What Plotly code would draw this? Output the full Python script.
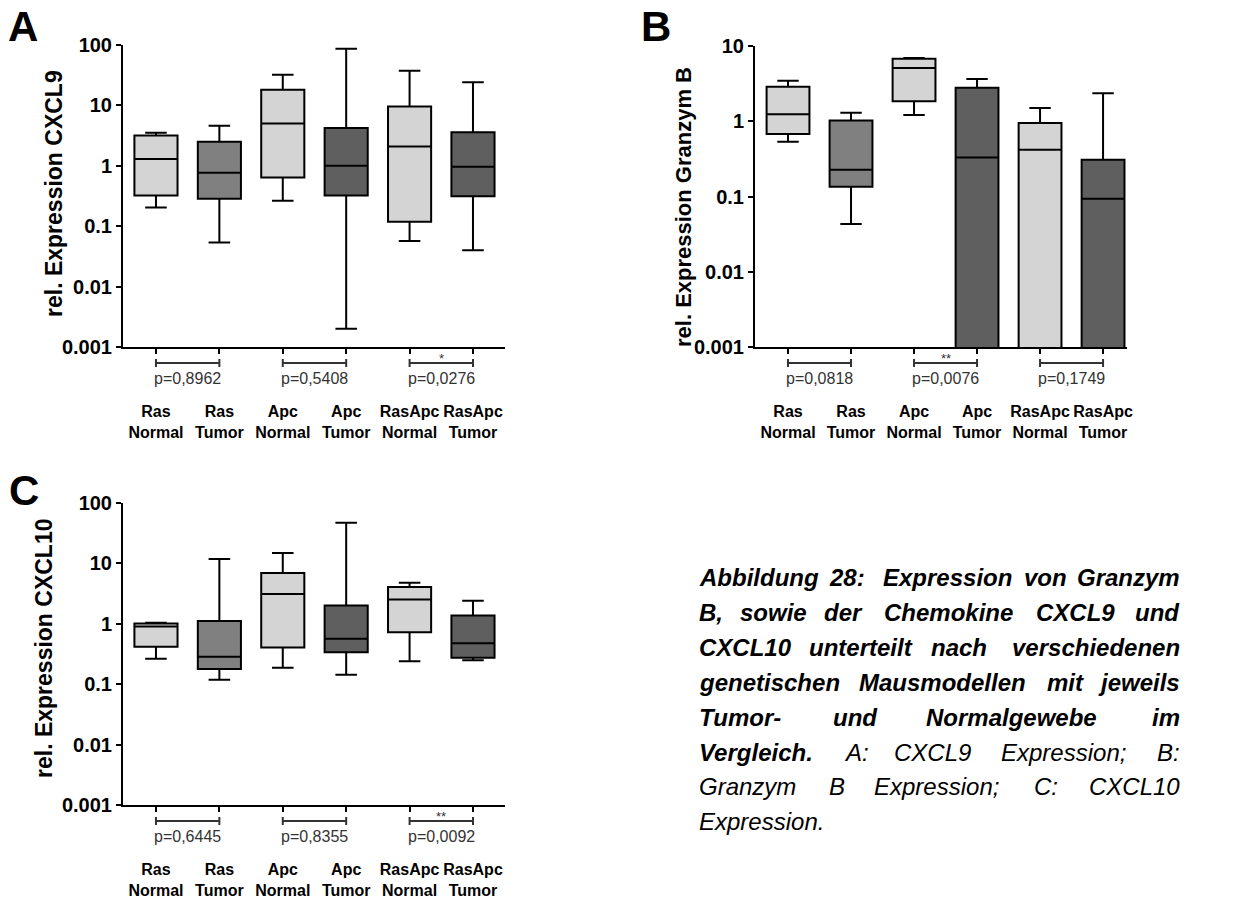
import plotly.graph_objects as go

W, H = 1242, 902
FONT = "Liberation Sans, Arial, sans-serif"

categories = ["Ras<br>Normal", "Ras<br>Tumor", "Apc<br>Normal", "Apc<br>Tumor",
              "RasApc<br>Normal", "RasApc<br>Tumor"]
box_colors = ["#d4d4d4", "#808080", "#d4d4d4", "#5f5f5f", "#d4d4d4", "#5f5f5f"]

# Panel A: CXCL9
cxcl9_min = [0.204, 0.0536, 0.263, 0.00201, 0.0571, 0.040]
cxcl9_q1 = [0.322, 0.284, 0.641, 0.322, 0.119, 0.314]
cxcl9_med = [1.29, 0.766, 5.03, 1.0, 2.09, 0.962]
cxcl9_q3 = [3.18, 2.5, 18.2, 4.21, 9.62, 3.61]
cxcl9_max = [3.52, 4.6, 32.2, 86.9, 37.6, 24.1]
cxcl9_p = ["p=0,8962", "p=0,5408", "p=0,0276"]
cxcl9_sig = ["", "", "*"]

# Panel B: Granzym B (lower quartiles/whiskers of some groups lie below 0.001)
gzmb_min = [0.535, 0.0431, 1.21, 0.0001, 0.0001, 0.0001]
gzmb_q1 = [0.677, 0.135, 1.84, 0.0001, 0.0001, 0.0001]
gzmb_med = [1.24, 0.227, 5.1, 0.331, 0.419, 0.0935]
gzmb_q3 = [2.88, 1.02, 6.79, 2.79, 0.948, 0.309]
gzmb_max = [3.46, 1.30, 6.93, 3.64, 1.50, 2.35]
gzmb_p = ["p=0,0818", "p=0,0076", "p=0,1749"]
gzmb_sig = ["", "**", ""]

# Panel C: CXCL10
cxcl10_min = [0.263, 0.118, 0.187, 0.143, 0.240, 0.25]
cxcl10_q1 = [0.416, 0.179, 0.405, 0.339, 0.728, 0.273]
cxcl10_med = [0.903, 0.284, 3.1, 0.564, 2.53, 0.478]
cxcl10_q3 = [1.01, 1.11, 6.91, 2.01, 4.05, 1.37]
cxcl10_max = [1.04, 11.8, 14.8, 47.2, 4.78, 2.41]
cxcl10_p = ["p=0,6445", "p=0,8355", "p=0,0092"]
cxcl10_sig = ["", "", "**"]

ytick_vals_A = [0.001, 0.01, 0.1, 1, 10, 100]
ytick_text_A = ["0.001", "0.01", "0.1", "1", "10", "100"]
ytick_vals_B = [0.001, 0.01, 0.1, 1, 10]
ytick_text_B = ["0.001", "0.01", "0.1", "1", "10"]

caption_lines = [
    [("Abbildung", "b"), ("28:", "b"), ("Expression", "b"), ("von", "b"), ("Granzym", "b")],
    [("B,", "b"), ("sowie", "b"), ("der", "b"), ("Chemokine", "b"), ("CXCL9", "b"), ("und", "b")],
    [("CXCL10", "b"), ("unterteilt", "b"), ("nach", "b"), ("verschiedenen", "b")],
    [("genetischen", "b"), ("Mausmodellen", "b"), ("mit", "b"), ("jeweils", "b")],
    [("Tumor-", "b"), ("und", "b"), ("Normalgewebe", "b"), ("im", "b")],
    [("Vergleich.", "b"), ("A:", "n"), ("CXCL9", "n"), ("Expression;", "n"), ("B:", "n")],
    [("Granzym", "n"), ("B", "n"), ("Expression;", "n"), ("C:", "n"), ("CXCL10", "n")],
    [("Expression.", "n")],
]
caption_word_x = [
    [698, 828, 882, 1023, 1077],
    [698, 739, 823, 883, 1035, 1132],
    [698, 808, 930, 1005],
    [698, 858, 1046, 1095],
    [698, 832, 925, 1152],
    [698, 843, 893, 1000, 1157],
    [698, 828, 873, 1033, 1085],
    [698],
]

# layout geometry in pixels: (left, right, top, bottom)
panels = [
    dict(name="A", xa="x", ya="y", box=(123, 505, 45, 347), xr=[-0.52, 5.505], yr=[-3, 2],
         mins=cxcl9_min, q1=cxcl9_q1, med=cxcl9_med, q3=cxcl9_q3, maxs=cxcl9_max,
         p=cxcl9_p, sig=cxcl9_sig, title="rel. Expression CXCL9", tpos=(54, 194), tsize=23,
         tv=ytick_vals_A, tt=ytick_text_A, letter=(23, 27)),
    dict(name="B", xa="x2", ya="y2", box=(755, 1127, 46, 347), xr=[-0.524, 5.38], yr=[-3, 1],
         mins=gzmb_min, q1=gzmb_q1, med=gzmb_med, q3=gzmb_q3, maxs=gzmb_max,
         p=gzmb_p, sig=gzmb_sig, title="rel. Expression Granzym B", tpos=(683, 207), tsize=22,
         tv=ytick_vals_B, tt=ytick_text_B, letter=(656, 27)),
    dict(name="C", xa="x3", ya="y3", box=(123, 505, 503, 805), xr=[-0.52, 5.505], yr=[-3, 2],
         mins=cxcl10_min, q1=cxcl10_q1, med=cxcl10_med, q3=cxcl10_q3, maxs=cxcl10_max,
         p=cxcl10_p, sig=cxcl10_sig, title="rel. Expression CXCL10", tpos=(44, 648), tsize=23,
         tv=ytick_vals_A, tt=ytick_text_A, letter=(24, 490)),
]


def py(p):
    return 1 - p / H


def px(p):
    return p / W


fig = go.Figure()
shapes = []
annotations = []
layout = dict(
    width=W, height=H, margin=dict(l=0, r=0, t=0, b=0),
    paper_bgcolor="white", plot_bgcolor="white", showlegend=False,
    font=dict(family=FONT, color="black"),
)

for k, P in enumerate(panels):
    for i in range(6):
        fig.add_trace(go.Box(
            x=[i], q1=[P["q1"][i]], median=[P["med"][i]], q3=[P["q3"][i]],
            lowerfence=[P["mins"][i]], upperfence=[P["maxs"][i]],
            width=0.68, whiskerwidth=0.5, boxpoints=False,
            fillcolor=box_colors[i], line=dict(color="black", width=2),
            xaxis=P["xa"], yaxis=P["ya"], hoverinfo="skip",
        ))
    l, r, t, b = P["box"]
    sfx = "" if k == 0 else str(k + 1)
    layout["xaxis" + sfx] = dict(
        domain=[px(l), px(r)], range=P["xr"], anchor=P["ya"],
        tickmode="array", tickvals=list(range(6)), ticktext=categories,
        ticks="outside", ticklen=5, tickwidth=2, tickcolor="black",
        showline=True, linecolor="black", linewidth=2,
        showgrid=False, zeroline=False, automargin=False,
        tickfont=dict(family=FONT, size=16, color="black", weight="bold"),
        ticklabelstandoff=44,
    )
    layout["yaxis" + sfx] = dict(
        domain=[py(b), py(t)], type="log", range=P["yr"], anchor=P["xa"],
        tickmode="array", tickvals=P["tv"], ticktext=P["tt"],
        ticks="outside", ticklen=5, tickwidth=2, tickcolor="black",
        showline=True, linecolor="black", linewidth=2,
        showgrid=False, zeroline=False, automargin=False,
        tickfont=dict(family=FONT, size=20, color="black", weight="bold"),
    )
    # y-axis title
    tx, ty = P["tpos"]
    annotations.append(dict(x=px(tx), y=py(ty), xref="paper", yref="paper", text=P["title"],
                            textangle=-90, showarrow=False, xanchor="center", yanchor="middle",
                            font=dict(family=FONT, size=P["tsize"], color="black", weight="bold")))
    # significance brackets
    yb = b + 16
    for j in range(3):
        x0, x1 = 2 * j, 2 * j + 1
        shapes.append(dict(type="line", xref=P["xa"], yref="paper", x0=x0, x1=x1,
                           y0=py(yb), y1=py(yb), line=dict(color="#333333", width=2)))
        for xx in (x0, x1):
            shapes.append(dict(type="line", xref=P["xa"], yref="paper", x0=xx, x1=xx,
                               y0=py(yb - 4), y1=py(yb + 4), line=dict(color="#333333", width=2)))
        annotations.append(dict(x=(x0 + x1) / 2, y=py(yb + 15), xref=P["xa"], yref="paper",
                                text=P["p"][j], showarrow=False, xanchor="center", yanchor="middle",
                                font=dict(family=FONT, size=16, color="#333333")))
        if P["sig"][j]:
            annotations.append(dict(x=(x0 + x1) / 2, y=py(yb - 5), xref=P["xa"], yref="paper",
                                    text=P["sig"][j], showarrow=False, xanchor="center",
                                    yanchor="middle",
                                    font=dict(family=FONT, size=13, color="#333333")))
    lx, ly = P["letter"]
    annotations.append(dict(x=px(lx), y=py(ly), xref="paper", yref="paper", text=P["name"],
                            showarrow=False, xanchor="center", yanchor="middle",
                            font=dict(family=FONT, size=42, color="black", weight="bold")))

# caption (justified by word positions)
for li, (words, xs) in enumerate(zip(caption_lines, caption_word_x)):
    yc = 577.5 + li * 34.9
    last = len(words) - 1
    for wi, ((w, style), xw) in enumerate(zip(words, xs)):
        right = (wi == last and len(words) > 1)
        annotations.append(dict(
            x=px(1182 if right else xw - 1), y=py(yc), xref="paper", yref="paper",
            text=w, showarrow=False, xanchor="right" if right else "left", yanchor="middle",
            font=dict(family=FONT, size=24, color="black", style="italic",
                      weight="bold" if style == "b" else "normal"),
        ))

layout["shapes"] = shapes
layout["annotations"] = annotations
fig.update_layout(**layout)
fig.write_html("out.html")
